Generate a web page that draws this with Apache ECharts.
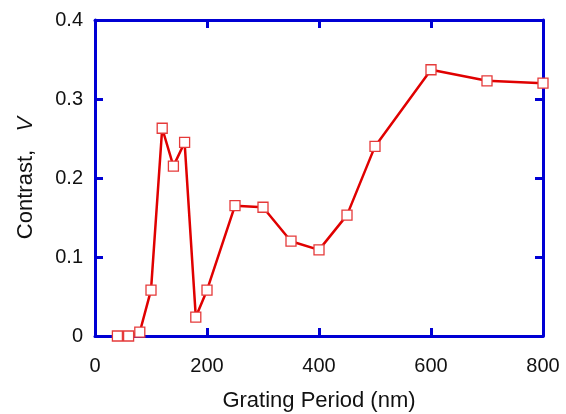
<!DOCTYPE html>
<html>
<head>
<meta charset="utf-8">
<script src="https://cdn.jsdelivr.net/npm/echarts@6/dist/echarts.min.js"></script>
<style>
  html, body { margin: 0; padding: 0; background: #fff; }
  #chart { width: 566px; height: 414px; }
</style>
</head>
<body>
<div id="chart"></div>
<script>
// grating period (nm) and measured contrast
var periods = [40, 60, 80, 100, 120, 140, 160, 180, 200, 250, 300, 350, 400, 450, 500, 600, 700, 800];
var contrast = [0, 0, 0.005, 0.058, 0.263, 0.215, 0.245, 0.024, 0.058, 0.165, 0.163, 0.12, 0.109, 0.153, 0.24, 0.337, 0.323, 0.32];

var axisColor = "#0000d4";
var font = "Liberation Sans, Arial, sans-serif";

var chart = echarts.init(document.getElementById("chart"));

// common look of the frame axes
function frameAxis(extra) {
  return Object.assign({
    axisLine: { show: true, onZero: false, lineStyle: { color: axisColor, width: 3 } },
    axisTick: { show: true, inside: true, length: 8, lineStyle: { color: axisColor, width: 3 } },
    splitLine: { show: false },
  }, extra);
}

var option = {
  animation: false,
  grid: { left: 95, right: 23, top: 20, bottom: 78, outerBoundsMode: "none", containLabel: false },
  xAxis: [
    frameAxis({
      type: "value", min: 0, max: 800, interval: 200, position: "bottom",
      name: "Grating Period (nm)", nameLocation: "middle", nameGap: 54,
      nameTextStyle: { fontFamily: font, fontSize: 22, color: "#111" },
      axisLabel: { margin: 20, fontFamily: font, fontSize: 20, color: "#111" },
    }),
    frameAxis({
      type: "value", min: 0, max: 800, interval: 200, position: "top",
      axisLabel: { show: false },
    }),
  ],
  yAxis: [
    frameAxis({
      type: "value", min: 0, max: 0.4, interval: 0.1, position: "left",
      name: "Contrast,   {i|V}", nameLocation: "middle", nameGap: 58, nameRotate: 90,
      nameTextStyle: {
        fontFamily: font, fontSize: 22, color: "#111",
        rich: { i: { fontFamily: font, fontSize: 22, fontStyle: "italic", color: "#111" } },
      },
      axisLabel: { margin: 12, fontFamily: font, fontSize: 20, color: "#111" },
    }),
    frameAxis({
      type: "value", min: 0, max: 0.4, interval: 0.1, position: "right",
      axisLabel: { show: false },
    }),
  ],
  series: [
    {
      type: "line",
      data: periods.map(function (p, i) { return [p, contrast[i]]; }),
      clip: false,
      symbol: "rect",
      symbolSize: 10,
      showAllSymbol: true,
      lineStyle: { color: "#e00000", width: 2.5 },
      itemStyle: { color: "#fff", borderColor: "#e53a3a", borderWidth: 1.3 },
      z: 5,
    },
  ],
};

chart.setOption(option);
</script>
</body>
</html>
